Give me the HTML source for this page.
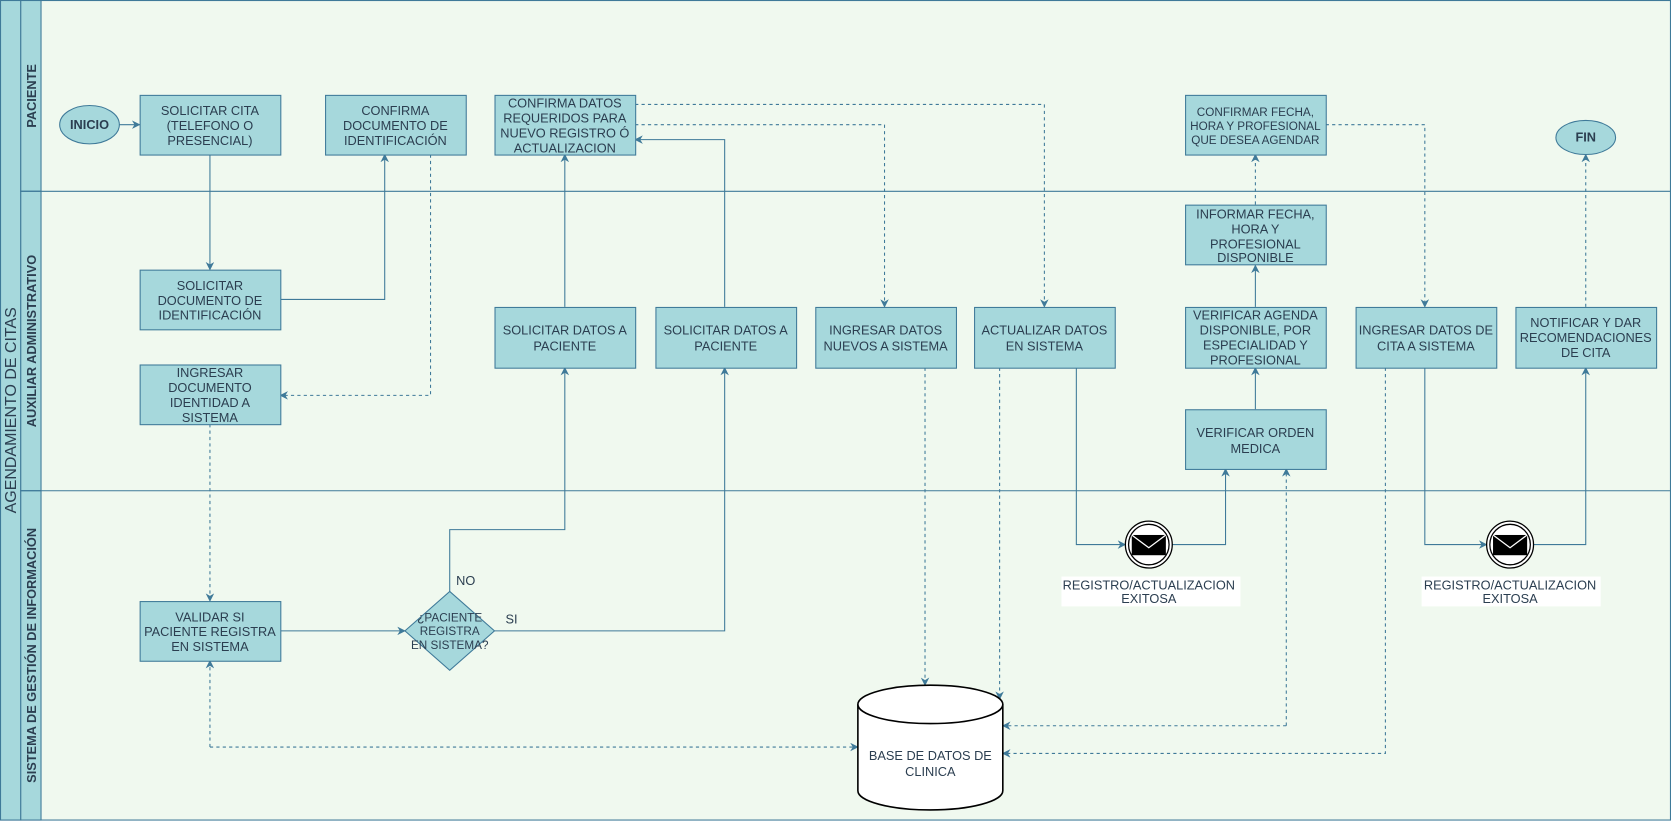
<!DOCTYPE html>
<html><head><meta charset="utf-8"><style>
html,body{margin:0;padding:0;background:#fff;}
svg{display:block;}
text{font-family:"Liberation Sans",sans-serif;fill:#2b3e50;}
</style></head><body>
<svg width="1671" height="821" viewBox="0 0 1568 770.4" preserveAspectRatio="none" xmlns="http://www.w3.org/2000/svg">
<defs>
<marker id="a" viewBox="0 0 10 10" refX="9" refY="5" markerWidth="8" markerHeight="8" orient="auto" markerUnits="userSpaceOnUse"><path d="M0,0 L10,5 L0,10 L3,5 z" fill="#3f7a99"/></marker>
</defs>
<rect x="0.5" y="0.5" width="1567" height="769" fill="#f0f9ef" stroke="#3f7a99"/>
<rect x="0.5" y="0.5" width="19" height="769" fill="#a6d8dc" stroke="#3f7a99"/>
<rect x="19.5" y="0.5" width="19" height="179" fill="#a6d8dc" stroke="#3f7a99"/>
<rect x="19.5" y="179.5" width="19" height="281" fill="#a6d8dc" stroke="#3f7a99"/>
<rect x="19.5" y="460.5" width="19" height="309" fill="#a6d8dc" stroke="#3f7a99"/>
<line x1="19" y1="179.5" x2="1568" y2="179.5" stroke="#3f7a99"/>
<line x1="19" y1="460.5" x2="1568" y2="460.5" stroke="#3f7a99"/>
<text transform="translate(15,385) rotate(-90)" text-anchor="middle" font-size="15">AGENDAMIENTO DE CITAS</text>
<text transform="translate(34,90) rotate(-90)" text-anchor="middle" font-size="12" font-weight="bold">PACIENTE</text>
<text transform="translate(34,320) rotate(-90)" text-anchor="middle" font-size="12" font-weight="bold">AUXILIAR ADMINISTRATIVO</text>
<text transform="translate(34,615) rotate(-90)" text-anchor="middle" font-size="12" font-weight="bold">SISTEMA DE GESTIÓN DE INFORMACIÓN</text>

<g fill="none" stroke="#3f7a99" stroke-width="1">
<path d="M112,117 H131" marker-end="url(#a)"/>
<path d="M197,145 V253" marker-end="url(#a)"/>
<path d="M263,281 H361 V145" marker-end="url(#a)"/>
<path d="M263,592 H380" marker-end="url(#a)"/>
<path d="M422,555 V497 H530 V345" marker-end="url(#a)"/>
<path d="M464,592 H680 V345" marker-end="url(#a)"/>
<path d="M530,288 V145" marker-end="url(#a)"/>
<path d="M680,288 V131 H596" marker-end="url(#a)"/>
<path d="M1010,345 V511 H1056" marker-end="url(#a)"/>
<path d="M1100,511 H1150 V440" marker-end="url(#a)"/>
<path d="M1178,384 V345" marker-end="url(#a)"/>
<path d="M1178,288 V249" marker-end="url(#a)"/>
<path d="M1337,345 V511 H1395" marker-end="url(#a)"/>
<path d="M1439,511 H1488 V345" marker-end="url(#a)"/>
</g>
<g fill="none" stroke="#3f7a99" stroke-width="1" stroke-dasharray="3,3">
<path d="M404,145 V371 H263" marker-end="url(#a)"/>
<path d="M197,398 V564" marker-end="url(#a)"/>
<path d="M596,117 H830 V288" marker-end="url(#a)"/>
<path d="M596,98 H980 V288" marker-end="url(#a)"/>
<path d="M868,345 V643" marker-end="url(#a)"/>
<path d="M848,345 H868"/>
<path d="M938,345 V656" marker-end="url(#a)"/>
<path d="M1178,192 V145" marker-end="url(#a)"/>
<path d="M1244,117 H1337 V288" marker-end="url(#a)"/>
<path d="M1488,288 V145" marker-end="url(#a)"/>
<path d="M1207,681 V440" marker-end="url(#a)"/>
<path d="M1207,681 H941" marker-end="url(#a)"/>
<path d="M1300,345 V707 H941" marker-end="url(#a)"/>
<path d="M197,701 V620" marker-end="url(#a)"/>
<path d="M197,701 H805" marker-end="url(#a)"/>
</g>

<g fill="#a6d8dc" stroke="#3f7a99">
<ellipse cx="84" cy="117" rx="28" ry="18"/>
<ellipse cx="1488" cy="129" rx="28" ry="16"/>
<rect x="131.5" y="89.5" width="132" height="56"/>
<rect x="305.5" y="89.5" width="132" height="56"/>
<rect x="464.5" y="89.5" width="132" height="56"/>
<rect x="1112.5" y="89.5" width="132" height="56"/>
<rect x="131.5" y="253.5" width="132" height="56"/>
<rect x="131.5" y="342.5" width="132" height="56"/>
<rect x="464.5" y="288.5" width="132" height="57"/>
<rect x="615.5" y="288.5" width="132" height="57"/>
<rect x="765.5" y="288.5" width="132" height="57"/>
<rect x="914.5" y="288.5" width="132" height="57"/>
<rect x="1112.5" y="192.5" width="132" height="56"/>
<rect x="1112.5" y="288.5" width="132" height="57"/>
<rect x="1112.5" y="384.5" width="132" height="56"/>
<rect x="1272.5" y="288.5" width="132" height="57"/>
<rect x="1422.5" y="288.5" width="132" height="57"/>
<rect x="131.5" y="564.5" width="132" height="56"/>
<path d="M422,555 L464,592 L422,629 L380,592 Z"/>
</g>

<g>
<circle cx="1078" cy="511" r="22" fill="#fff" stroke="#000" stroke-width="1.2"/>
<circle cx="1078" cy="511" r="19" fill="#fff" stroke="#000" stroke-width="1.2"/>
<rect x="1062" y="502" width="32" height="19" fill="#000"/>
<path d="M1062,502 L1078,514 L1094,502" fill="none" stroke="#fff" stroke-width="1.2"/>
<circle cx="1417" cy="511" r="22" fill="#fff" stroke="#000" stroke-width="1.2"/>
<circle cx="1417" cy="511" r="19" fill="#fff" stroke="#000" stroke-width="1.2"/>
<rect x="1401" y="502" width="32" height="19" fill="#000"/>
<path d="M1401,502 L1417,514 L1433,502" fill="none" stroke="#fff" stroke-width="1.2"/>
<rect x="996" y="541" width="168" height="28" fill="#fff"/>
<rect x="1334" y="541" width="168" height="28" fill="#fff"/>
</g>

<g fill="#fff" stroke="#000" stroke-width="1.5">
<path d="M805,661 V742 A68,18 0 0 0 941,742 V661"/>
<ellipse cx="873" cy="661" rx="68" ry="18"/>
</g>

<g font-size="12" text-anchor="middle">
<text x="84" y="121" font-weight="bold">INICIO</text>
<text x="1488" y="133" font-weight="bold">FIN</text>
<text x="197" y="108">SOLICITAR CITA</text><text x="197" y="122">(TELEFONO O</text><text x="197" y="136">PRESENCIAL)</text>
<text x="371" y="108">CONFIRMA</text><text x="371" y="122">DOCUMENTO DE</text><text x="371" y="136">IDENTIFICACIÓN</text>
<text x="530" y="101">CONFIRMA DATOS</text><text x="530" y="115">REQUERIDOS PARA</text><text x="530" y="129">NUEVO REGISTRO Ó</text><text x="530" y="143">ACTUALIZACION</text>
<text x="1178" y="109" font-size="11">CONFIRMAR FECHA,</text><text x="1178" y="122" font-size="11">HORA Y PROFESIONAL</text><text x="1178" y="135" font-size="11">QUE DESEA AGENDAR</text>
<text x="197" y="272">SOLICITAR</text><text x="197" y="286">DOCUMENTO DE</text><text x="197" y="300">IDENTIFICACIÓN</text>
<text x="197" y="354">INGRESAR</text><text x="197" y="368">DOCUMENTO</text><text x="197" y="382">IDENTIDAD A</text><text x="197" y="396">SISTEMA</text>
<text x="530" y="314">SOLICITAR DATOS A</text><text x="530" y="329">PACIENTE</text>
<text x="681" y="314">SOLICITAR DATOS A</text><text x="681" y="329">PACIENTE</text>
<text x="831" y="314">INGRESAR DATOS</text><text x="831" y="329">NUEVOS A SISTEMA</text>
<text x="980" y="314">ACTUALIZAR DATOS</text><text x="980" y="329">EN SISTEMA</text>
<text x="1178" y="205">INFORMAR FECHA,</text><text x="1178" y="219">HORA Y</text><text x="1178" y="233">PROFESIONAL</text><text x="1178" y="246">DISPONIBLE</text>
<text x="1178" y="300">VERIFICAR AGENDA</text><text x="1178" y="314">DISPONIBLE, POR</text><text x="1178" y="328">ESPECIALIDAD Y</text><text x="1178" y="342">PROFESIONAL</text>
<text x="1178" y="410">VERIFICAR ORDEN</text><text x="1178" y="425">MEDICA</text>
<text x="1338" y="314">INGRESAR DATOS DE</text><text x="1338" y="329">CITA A SISTEMA</text>
<text x="1488" y="307">NOTIFICAR Y DAR</text><text x="1488" y="321">RECOMENDACIONES</text><text x="1488" y="335">DE CITA</text>
<text x="197" y="583">VALIDAR SI</text><text x="197" y="597">PACIENTE REGISTRA</text><text x="197" y="611">EN SISTEMA</text>
<text x="422" y="583" font-size="11">¿PACIENTE</text><text x="422" y="596" font-size="11">REGISTRA</text><text x="422" y="609" font-size="11">EN SISTEMA?</text>
<text x="437" y="549">NO</text><text x="480" y="585">SI</text>
<text x="1078" y="553">REGISTRO/ACTUALIZACION</text><text x="1078" y="566">EXITOSA</text>
<text x="1417" y="553">REGISTRO/ACTUALIZACION</text><text x="1417" y="566">EXITOSA</text>
<text x="873" y="713">BASE DE DATOS DE</text><text x="873" y="728">CLINICA</text>
</g>
</svg>
</body></html>
